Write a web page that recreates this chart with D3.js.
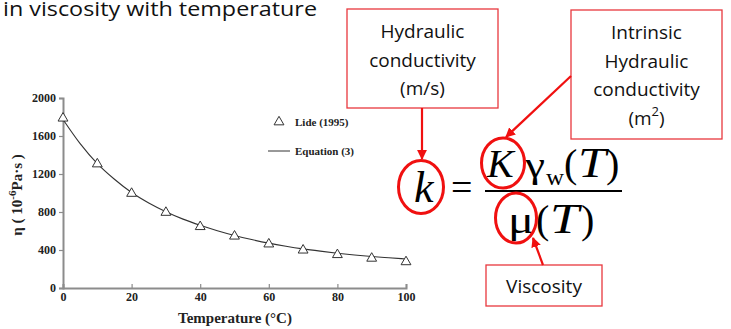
<!DOCTYPE html>
<html>
<head>
<meta charset="utf-8">
<script src="https://cdn.jsdelivr.net/npm/d3@7"></script>
<style>
  html, body { margin: 0; padding: 0; background: #fff; }
  svg { display: block; }
</style>
</head>
<body>
<svg id="chart" width="731" height="329"></svg>
<script>
// Viscosity of water against temperature
const temps = [0, 10, 20, 30, 40, 50, 60, 70, 80, 90, 100];
const lideValues = [1787, 1305, 995, 795, 645, 545, 462, 398, 350, 312, 275];

// Equation (3) fitted curve, sampled every 5 °C
const curveTemps = [0, 5, 10, 15, 20, 25, 30, 35, 40, 45, 50, 55, 60, 65, 70, 75, 80, 85, 90, 95, 100];
const curveValues = [1775, 1520, 1310, 1145, 1005, 895, 803, 725, 660, 603, 553, 510, 472, 440, 412, 388, 366, 347, 331, 318, 306];

const xTicks = [0, 20, 40, 60, 80, 100];
const yTicks = [0, 400, 800, 1200, 1600, 2000];

const svg = d3.select("#chart");
const serif = "'Liberation Serif', 'Times New Roman', serif";
const sans = "'Open Sans', Lato, sans-serif";
const red = "#f01010";
const boxRed = "#e8383e";

// heading, running off the top of the page
svg.append("text").attr("x", 3).attr("y", 15.5)
  .attr("font-family", sans).attr("font-size", 19.5).attr("fill", "#111")
  .attr("textLength", 314).attr("lengthAdjust", "spacingAndGlyphs")
  .text("in viscosity with temperature");

const x = d3.scaleLinear().domain([0, 100]).range([63, 406]);
const y = d3.scaleLinear().domain([0, 2000]).range([288, 98]);

const axisColor = "#8c8c8c";

const gx = svg.append("g").attr("transform", `translate(0,${y(0)})`)
  .call(d3.axisBottom(x).tickValues(xTicks).tickFormat(d3.format("d")).tickSize(-4).tickPadding(7));
const gy = svg.append("g").attr("transform", `translate(${x(0)},0)`)
  .call(d3.axisLeft(y).tickValues(yTicks).tickFormat(d3.format("d")).tickSize(4).tickPadding(3));

[gx, gy].forEach(g => {
  g.select(".domain").attr("stroke", axisColor).attr("stroke-width", 2);
  g.selectAll(".tick line").attr("stroke", axisColor).attr("stroke-width", 1.2);
  g.selectAll(".tick text").attr("font-family", serif).attr("font-weight", "bold")
    .attr("font-size", 12).attr("fill", "#222");
});
gx.selectAll(".tick text").attr("dy", "0.5em");

// fitted curve
const line = d3.line().x(d => x(d[0])).y(d => y(d[1])).curve(d3.curveMonotoneX);
svg.append("path")
  .datum(curveTemps.map((t, i) => [t, curveValues[i]]))
  .attr("d", line).attr("fill", "none").attr("stroke", "#333").attr("stroke-width", 1.1);

// measured values
const tri = d3.symbol().type(d3.symbolTriangle).size(42);
svg.append("g").selectAll("path")
  .data(temps.map((t, i) => [t, lideValues[i]]))
  .join("path")
  .attr("d", tri)
  .attr("transform", d => `translate(${x(d[0])},${y(d[1])})`)
  .attr("fill", "#fff").attr("stroke", "#333").attr("stroke-width", 1);

// axis titles
svg.append("text")
  .attr("transform", "translate(22,195) rotate(-90)")
  .attr("text-anchor", "middle")
  .attr("font-family", serif).attr("font-weight", "bold").attr("font-size", 15).attr("fill", "#222")
  .html("η ( 10<tspan dy='-6' font-size='11'>-6</tspan><tspan dy='6'>Pa·s )</tspan>");

svg.append("text").attr("x", 235).attr("y", 323).attr("text-anchor", "middle")
  .attr("font-family", serif).attr("font-weight", "bold").attr("font-size", 15).attr("fill", "#222")
  .text("Temperature (°C)");

// legend
svg.append("path").attr("d", tri).attr("transform", "translate(279,122)")
  .attr("fill", "#fff").attr("stroke", "#333");
svg.append("text").attr("x", 295).attr("y", 125.5)
  .attr("font-family", serif).attr("font-weight", "bold").attr("font-size", 11).attr("fill", "#222")
  .text("Lide (1995)");
svg.append("line").attr("x1", 268).attr("x2", 290).attr("y1", 151).attr("y2", 151)
  .attr("stroke", "#333").attr("stroke-width", 1);
svg.append("text").attr("x", 295).attr("y", 155)
  .attr("font-family", serif).attr("font-weight", "bold").attr("font-size", 11).attr("fill", "#222")
  .text("Equation (3)");

// arrowhead
svg.append("defs").append("marker")
  .attr("id", "arrow").attr("viewBox", "0 0 10 10").attr("refX", 9).attr("refY", 5)
  .attr("markerWidth", 4.5).attr("markerHeight", 4.5).attr("orient", "auto")
  .append("path").attr("d", "M0,0 L10,5 L0,10 z").attr("fill", red);

// labelled boxes
function box(x0, y0, x1, y1, lines, cy, gap) {
  svg.append("rect").attr("x", x0).attr("y", y0).attr("width", x1 - x0).attr("height", y1 - y0)
    .attr("fill", "#fff").attr("stroke", boxRed).attr("stroke-width", 1.3);
  lines.forEach((l, i) => {
    svg.append("text").attr("x", (x0 + x1) / 2).attr("y", cy + i * gap)
      .attr("text-anchor", "middle").attr("dominant-baseline", "central")
      .attr("font-family", sans).attr("font-size", 19).attr("fill", "#111")
      .html(l);
  });
}
box(347, 9, 498, 108, ["Hydraulic", "conductivity", "(m/s)"], 31, 28.5);
box(571, 10, 722, 139, ["Intrinsic", "Hydraulic", "conductivity", "(m<tspan dy='-7' font-size='13'>2</tspan><tspan dy='7'>)</tspan>"], 32, 28.5);
box(486, 265, 602, 306, ["Viscosity"], 286, 0);

function arrow(x1, y1, x2, y2) {
  svg.append("line").attr("x1", x1).attr("y1", y1).attr("x2", x2).attr("y2", y2)
    .attr("stroke", red).attr("stroke-width", 2.2).attr("marker-end", "url(#arrow)");
}
arrow(422, 108, 422, 159);
arrow(571, 76, 506, 137);
arrow(543, 265, 533, 238);

// formula  k = K γw(T) / μ(T), each symbol placed on its own
const f = svg.append("g").attr("font-family", serif).attr("fill", "#000");
function sym(txt, x0, y0, size, italic, width) {
  const t = f.append("text").attr("x", x0).attr("y", y0).attr("font-size", size)
    .attr("font-style", italic ? "italic" : "normal").text(txt);
  if (width) t.attr("textLength", width).attr("lengthAdjust", "spacingAndGlyphs");
  return t;
}
sym("k", 414, 202, 44, true);
sym("=", 451, 200, 38, false);
// numerator
sym("K", 487, 177, 40, true);
sym("γ", 525, 177, 36, false, 20);
sym("w", 546, 185, 24, false, 18);
sym("(", 564, 177, 40, false);
sym("T", 578, 177, 42, true, 28);
sym(")", 606, 177, 40, false);
f.append("line").attr("x1", 485).attr("x2", 622).attr("y1", 191).attr("y2", 191)
  .attr("stroke", "#000").attr("stroke-width", 2.2);
// denominator
sym("μ", 508, 233, 38, false, 26);
sym("(", 536, 233, 40, false);
sym("T", 550, 233, 42, true, 29);
sym(")", 581, 233, 40, false);

// highlight rings
[[421, 187, 22.5, 26.5], [503, 163, 21.5, 25], [516, 218, 20.5, 25]].forEach(e => {
  svg.append("ellipse").attr("cx", e[0]).attr("cy", e[1]).attr("rx", e[2]).attr("ry", e[3])
    .attr("fill", "none").attr("stroke", red).attr("stroke-width", 3);
});
</script>
</body>
</html>
